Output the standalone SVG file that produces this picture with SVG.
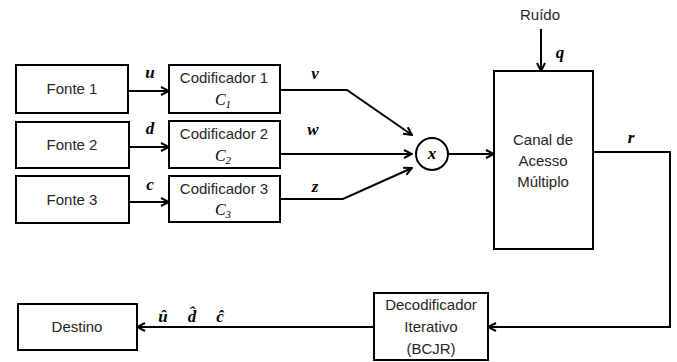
<svg xmlns="http://www.w3.org/2000/svg" width="677" height="362" viewBox="0 0 677 362">
<style>
.box{fill:#fff;stroke:#000;stroke-width:2}
.t{font-family:"Liberation Sans",Arial,sans-serif;font-size:15px;fill:#262626;text-anchor:middle}
.m{font-family:"Liberation Serif","Times New Roman",serif;font-size:17px;font-weight:bold;font-style:italic;fill:#000;text-anchor:middle}
.sub{font-family:"Liberation Serif",serif;font-size:16px;font-style:italic;fill:#000;text-anchor:middle}
.c{fill:none;stroke:#000;stroke-width:2}
</style>
<defs>
<marker id="a" markerWidth="10" markerHeight="10" refX="9" refY="5" orient="auto" markerUnits="userSpaceOnUse">
<path d="M1,1 L9,5 L1,9" fill="none" stroke="#000" stroke-width="2"/>
</marker>
</defs>
<rect width="677" height="362" fill="#fff"/>
<g id="fonte1"><rect class="box" x="16" y="65" width="112" height="48"/><text class="t" x="72" y="94">Fonte 1</text></g>
<g id="fonte2"><rect class="box" x="16" y="122" width="113" height="46"/><text class="t" x="72" y="150">Fonte 2</text></g>
<g id="fonte3"><rect class="box" x="16" y="176" width="113" height="47"/><text class="t" x="72" y="205">Fonte 3</text></g>
<g id="cod1"><rect class="box" x="169" y="65" width="111" height="48"/><text class="t" x="224" y="83">Codificador 1</text><text class="sub" x="223" y="105">C<tspan font-size="11" dy="3">1</tspan></text></g>
<g id="cod2"><rect class="box" x="169" y="121" width="111" height="47"/><text class="t" x="224" y="139">Codificador 2</text><text class="sub" x="223" y="161">C<tspan font-size="11" dy="3">2</tspan></text></g>
<g id="cod3"><rect class="box" x="169" y="176" width="111" height="46"/><text class="t" x="224" y="194">Codificador 3</text><text class="sub" x="223" y="215">C<tspan font-size="11" dy="3">3</tspan></text></g>
<g id="mix"><circle cx="432" cy="154" r="16" fill="#fff" stroke="#000" stroke-width="2"/><text class="m" x="432" y="159">x</text></g>
<g id="canal"><rect class="box" x="494" y="71" width="99" height="178"/><text class="t" x="543" y="145">Canal de</text><text class="t" x="543" y="166">Acesso</text><text class="t" x="543" y="187">Múltiplo</text></g>
<g id="ruido"><text class="t" x="540" y="20">Ruído</text></g>
<g id="decod"><rect class="box" x="374" y="293" width="114" height="67"/><text class="t" x="431" y="310">Decodificador</text><text class="t" x="431" y="332">Iterativo</text><text class="t" x="431" y="354">(BCJR)</text></g>
<g id="destino"><rect class="box" x="18" y="304" width="119" height="46"/><text class="t" x="77" y="332">Destino</text></g>
<g id="connectors">
<line class="c" x1="128" y1="91" x2="169" y2="91" marker-end="url(#a)"/>
<line class="c" x1="129" y1="147" x2="169" y2="147" marker-end="url(#a)"/>
<line class="c" x1="129" y1="202" x2="169" y2="202" marker-end="url(#a)"/>
<polyline class="c" points="280,90 347,90 412,135" marker-end="url(#a)"/>
<line class="c" x1="280" y1="154" x2="412" y2="154" marker-end="url(#a)"/>
<polyline class="c" points="280,199 343,199 412,168" marker-end="url(#a)"/>
<line class="c" x1="448" y1="154" x2="494" y2="154" marker-end="url(#a)"/>
<line class="c" x1="541" y1="29" x2="541" y2="71" marker-end="url(#a)"/>
<polyline class="c" points="593,152 670,152 670,327 488,327" marker-end="url(#a)"/>
<line class="c" x1="374" y1="327" x2="137" y2="327" marker-end="url(#a)"/>
</g>
<g id="labels">
<text class="m" x="150" y="78">u</text>
<text class="m" x="150" y="134">d</text>
<text class="m" x="150" y="190">c</text>
<text class="m" x="315" y="79">v</text>
<text class="m" x="313" y="135">w</text>
<text class="m" x="315" y="192">z</text>
<text class="m" x="560" y="58">q</text>
<text class="m" x="631" y="143">r</text>
<text class="m" x="163" y="322">û</text>
<text class="m" x="192" y="322">d̂</text>
<text class="m" x="220" y="322">ĉ</text>
</g>
</svg>
